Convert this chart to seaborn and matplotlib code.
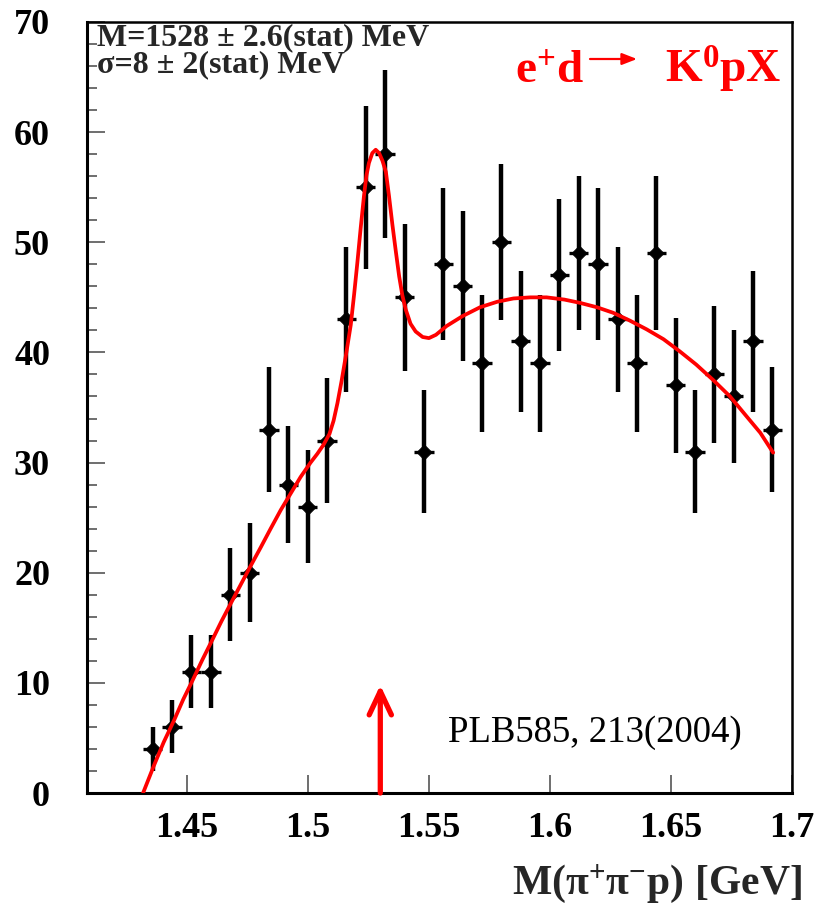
import matplotlib
matplotlib.use("Agg")
import matplotlib.pyplot as plt
from matplotlib.ticker import MultipleLocator
import seaborn as sns
import pandas as pd

# Invariant mass bins (bin centres, GeV) and event counts
mass = [1.436, 1.444, 1.452, 1.460, 1.468, 1.476, 1.484, 1.492, 1.500, 1.508, 1.516,
        1.524, 1.532, 1.540, 1.548, 1.556, 1.564, 1.572, 1.580, 1.588, 1.596, 1.604,
        1.612, 1.620, 1.628, 1.636, 1.644, 1.652, 1.660, 1.668, 1.676, 1.684, 1.692]
counts = [4, 6, 11, 11, 18, 20, 33, 28, 26, 32, 43,
          55, 58, 45, 31, 48, 46, 39, 50, 41, 39, 47,
          49, 48, 43, 39, 49, 37, 31, 38, 36, 41, 33]
count_err = [2.0, 2.4, 3.3, 3.3, 4.2, 4.5, 5.7, 5.3, 5.1, 5.7, 6.6,
             7.4, 7.6, 6.7, 5.6, 6.9, 6.8, 6.2, 7.1, 6.4, 6.2, 6.9,
             7.0, 6.9, 6.6, 6.2, 7.0, 6.1, 5.6, 6.2, 6.0, 6.4, 5.7]
bin_width = 0.008

# Fitted curve (Gaussian peak on smooth background), sampled along its length
fit_mass = [1.4320, 1.4365, 1.4405, 1.4448, 1.4486, 1.4524, 1.4565, 1.4606, 1.4644,
            1.4682, 1.4723, 1.4764, 1.4806, 1.4847, 1.4889, 1.4930, 1.4971, 1.5012,
            1.5040, 1.5065, 1.5090, 1.5107, 1.5123, 1.5140, 1.5157, 1.5178, 1.5192,
            1.5205, 1.5219, 1.5233, 1.5243, 1.5253, 1.5267, 1.5281, 1.5295, 1.5309,
            1.5323, 1.5336, 1.5350, 1.5364, 1.5378, 1.5391, 1.5405, 1.5425, 1.5446,
            1.5475, 1.5501, 1.5530, 1.5574, 1.5640, 1.5712, 1.5783, 1.5850, 1.5920,
            1.5987, 1.6060, 1.6125, 1.6195, 1.6262, 1.6330, 1.6400, 1.6470, 1.6537,
            1.6605, 1.6675, 1.6745, 1.6813, 1.6870, 1.6923]
fit_counts = [0.0, 2.5, 4.6, 6.6, 8.5, 10.2, 12.1, 13.9, 15.6,
              17.2, 18.9, 20.6, 22.3, 24.0, 25.7, 27.2, 28.7, 30.0,
              30.8, 31.6, 32.6, 33.8, 35.4, 37.4, 39.6, 42.5, 45.3,
              48.1, 51.3, 54.3, 56.1, 57.2, 58.1, 58.4, 58.1, 57.4,
              56.4, 54.2, 51.6, 49.2, 46.9, 45.2, 43.9, 42.6, 41.9,
              41.4, 41.3, 41.6, 42.4, 43.3, 44.1, 44.6, 44.9, 45.0,
              45.0, 44.8, 44.5, 44.1, 43.6, 42.9, 42.1, 41.2, 40.1,
              38.9, 37.5, 36.0, 34.2, 32.7, 30.9]

peak_mass = 1.530
arrow_tip = 9.8

x_ticks = [1.45, 1.5, 1.55, 1.6, 1.65, 1.7]
x_tick_labels = ["1.45", "1.5", "1.55", "1.6", "1.65", "1.7"]
y_ticks = [0, 10, 20, 30, 40, 50, 60, 70]
y_tick_labels = ["0", "10", "20", "30", "40", "50", "60", "70"]

sns.set_theme(style="ticks")
plt.rcParams["font.family"] = ["Liberation Serif", "DejaVu Serif"]
plt.rcParams["font.weight"] = "bold"
plt.rcParams["mathtext.fontset"] = "custom"
plt.rcParams["mathtext.rm"] = "Liberation Serif:bold"
plt.rcParams["mathtext.bf"] = "Liberation Serif:bold"
plt.rcParams["mathtext.it"] = "Liberation Serif:bold:italic"

W, H = 815, 923
fig = plt.figure(figsize=(W / 100, H / 100), dpi=100)
fig.patch.set_facecolor("white")
ax = fig.add_axes([87.4 / W, (H - 793) / H, (791.8 - 87.4) / W, (793 - 22) / H])
ax.set_facecolor("white")

df = pd.DataFrame({"mass": mass, "counts": counts, "err": count_err})
fit_df = pd.DataFrame({"mass": fit_mass, "counts": fit_counts})

# data points with statistical errors
ax.errorbar(df["mass"], df["counts"], yerr=df["err"], fmt="none",
            ecolor="black", elinewidth=3.2, capsize=0, zorder=3)
ax.errorbar(df["mass"], df["counts"], xerr=bin_width / 2, fmt="none",
            ecolor="black", elinewidth=2.4, capsize=0, zorder=3)
sns.scatterplot(data=df, x="mass", y="counts", marker="D", s=60,
                color="black", edgecolor="black", linewidth=0.5,
                ax=ax, zorder=4, legend=False)

# fit curve
sns.lineplot(data=fit_df, x="mass", y="counts", color="#ff0000", lw=2.7,
             sort=False, ax=ax, zorder=5, legend=False)

# arrow marking the peak position
ax.annotate("", xy=(peak_mass, arrow_tip), xytext=(peak_mass, 0),
            arrowprops=dict(arrowstyle="->,head_length=1.7,head_width=0.8",
                            mutation_scale=10, color="#ff0000", lw=3.8,
                            shrinkA=0, shrinkB=0, capstyle="round",
                            joinstyle="round"),
            zorder=5)

ax.set_xlim(1.409, 1.7)
ax.set_ylim(0, 70)
ax.set_xticks(x_ticks)
ax.set_xticklabels(x_tick_labels)
ax.set_yticks(y_ticks)
ax.set_yticklabels(y_tick_labels)
ax.yaxis.set_minor_locator(MultipleLocator(2))

ax.tick_params(axis="both", which="both", direction="in", colors="#555555",
               labelcolor="black", top=False, right=False)
ax.tick_params(axis="y", which="major", length=13, width=1.2, pad=26.9, labelsize=26)
ax.tick_params(axis="y", which="minor", length=7, width=1.2)
ax.tick_params(axis="x", which="major", length=13, width=1.2, pad=13.7, labelsize=26)
for lbl in ax.get_xticklabels() + ax.get_yticklabels():
    lbl.set_fontweight("bold")

for side in ["left", "bottom", "top", "right"]:
    ax.spines[side].set_visible(True)
    ax.spines[side].set_color("black")
    ax.spines[side].set_linewidth(1.8)
ax.spines["left"].set_linewidth(2.2)
ax.spines["bottom"].set_linewidth(2.2)

ax.set_ylabel("")
ax.set_xlabel(r"$\mathbf{M(\pi^{+}\pi^{-}p)\ [GeV]}$", fontsize=30, loc="right")
ax.xaxis.label.set_va("baseline")
ax.xaxis.set_label_coords((802 - 87.4) / (791.8 - 87.4), (793 - 894) / (793 - 22))


def fx(px):
    return px / W


def fy(py):
    return 1 - py / H


# fit results
fig.text(fx(97), fy(45), "M=1528 ± 2.6(stat) MeV", fontsize=23,
         fontweight="bold", va="baseline", ha="left")
fig.text(fx(97), fy(72), "σ=8 ± 2(stat) MeV", fontsize=23,
         fontweight="bold", va="baseline", ha="left")

# reaction label
fig.text(fx(515), fy(83), r"$\mathbf{e^{+}d}$", fontsize=34, color="#ff0000",
         va="baseline", ha="left")
fig.text(fx(665), fy(83), r"$\mathbf{K^{0}pX}$", fontsize=34, color="#ff0000",
         va="baseline", ha="left")
ax.annotate("", xy=(fx(637), fy(59)), xytext=(fx(590), fy(59)),
            xycoords="figure fraction", textcoords="figure fraction",
            arrowprops=dict(arrowstyle="-|>,head_length=0.9,head_width=0.35",
                            mutation_scale=10, color="#ff0000", lw=1.6,
                            shrinkA=0, shrinkB=0))

# reference
fig.text(fx(448), fy(742), "PLB585, 213(2004)", fontsize=26.5,
         fontweight="normal", va="baseline", ha="left", color="black")

fig.savefig("out.png", dpi=100, facecolor="white")
